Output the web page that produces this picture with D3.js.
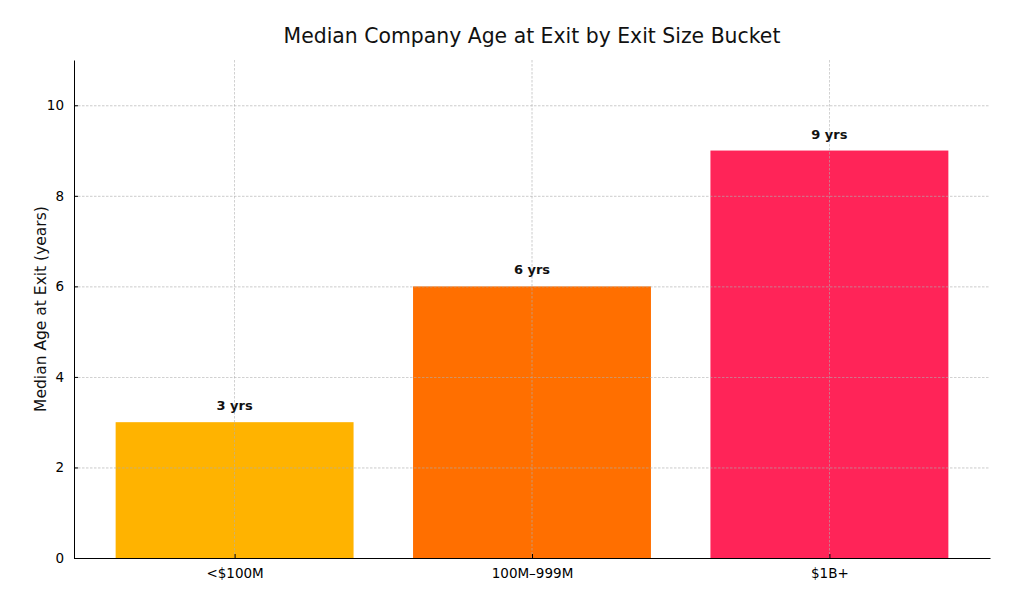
<!DOCTYPE html>
<html>
<head>
<meta charset="utf-8">
<script src="https://cdn.jsdelivr.net/npm/d3@7"></script>
<style>
  body { margin: 0; background: #fff; }
  text { font-family: "DejaVu Sans", sans-serif; }
</style>
</head>
<body>
<div id="vis_container"></div>
<script>
// chart data
var categories = ["<$100M", "100M\u2013999M", "$1B+"];
var values = [3, 6, 9];
var valueLabels = ["3 yrs", "6 yrs", "9 yrs"];
var barColors = ["#FFB300", "#FF6F00", "#FF2458"];
var yTicks = [0, 2, 4, 6, 8, 10];

var chart = {};
chart.width = 1024;
chart.height = 610;
chart.margin = {"top": 60, "left": 74, "right": 34, "bottom": 52};
chart.innerW = chart.width - chart.margin.left - chart.margin.right;
chart.innerH = chart.height - chart.margin.top - chart.margin.bottom;

chart.svg = d3.select("#vis_container").append("svg")
	.attr("width", chart.width)
	.attr("height", chart.height)
	.style("background-color", "#FFFFFF");

chart.g = chart.svg.append("g")
	.attr("transform", "translate(" + chart.margin.left + "," + chart.margin.top + ")");

// matplotlib-like: bar width 0.8, 0.05 margins
chart.xScale = d3.scaleLinear()
	.domain([-0.54, categories.length - 1 + 0.54])
	.range([0, chart.innerW]);
chart.barW = chart.xScale(0.8) - chart.xScale(0);

chart.yScale = d3.scaleLinear()
	.domain([0, 11])
	.range([chart.innerH, 0]);

// bars
chart.g.selectAll("rect.bar")
	.data(values)
	.enter().append("rect")
	.attr("class", "bar")
	.attr("x", function(d, i) { return chart.xScale(i) - chart.barW / 2; })
	.attr("y", function(d) { return chart.yScale(d); })
	.attr("width", chart.barW)
	.attr("height", function(d) { return chart.innerH - chart.yScale(d); })
	.attr("fill", function(d, i) { return barColors[i]; });

// grid on top of bars
chart.g.selectAll("line.hgrid")
	.data(yTicks.slice(1))
	.enter().append("line")
	.attr("x1", 0)
	.attr("x2", chart.innerW)
	.attr("y1", function(d) { return chart.yScale(d) + 0.5; })
	.attr("y2", function(d) { return chart.yScale(d) + 0.5; })
	.attr("stroke", "#b0b0b0")
	.attr("stroke-width", 0.8)
	.attr("stroke-dasharray", "2.5,1.5")
	.attr("opacity", 0.8);

chart.g.selectAll("line.vgrid")
	.data(categories)
	.enter().append("line")
	.attr("x1", function(d, i) { return chart.xScale(i); })
	.attr("x2", function(d, i) { return chart.xScale(i); })
	.attr("y1", 0)
	.attr("y2", chart.innerH)
	.attr("stroke", "#b0b0b0")
	.attr("stroke-width", 0.8)
	.attr("stroke-dasharray", "2.5,1.5")
	.attr("opacity", 0.8);

// axes
chart.yAxis = d3.axisLeft(chart.yScale)
	.tickValues(yTicks)
	.tickSizeInner(-4)
	.tickSizeOuter(0)
	.tickPadding(10);
chart.g.append("g")
	.call(chart.yAxis)
	.call(function(g) {
		g.select(".domain").attr("stroke", "#000").attr("stroke-width", 1);
		g.selectAll("text").attr("font-size", 13.5).attr("fill", "#000")
			.attr("font-family", "DejaVu Sans, sans-serif");
	});

chart.xAxis = d3.axisBottom(chart.xScale)
	.tickValues(d3.range(categories.length))
	.tickFormat(function(d) { return categories[d]; })
	.tickSizeInner(-4)
	.tickSizeOuter(0)
	.tickPadding(10);
chart.g.append("g")
	.attr("transform", "translate(0," + chart.innerH + ")")
	.call(chart.xAxis)
	.call(function(g) {
		g.select(".domain").attr("stroke", "#000").attr("stroke-width", 1);
		g.selectAll("text").attr("font-size", 13.5).attr("fill", "#000")
			.attr("font-family", "DejaVu Sans, sans-serif");
	});

// value labels
chart.g.selectAll("text.vlabel")
	.data(values)
	.enter().append("text")
	.attr("class", "vlabel")
	.attr("x", function(d, i) { return chart.xScale(i); })
	.attr("y", function(d) { return chart.yScale(d) - 12; })
	.attr("text-anchor", "middle")
	.attr("font-size", 13)
	.attr("font-weight", "bold")
	.attr("fill", "#111")
	.text(function(d, i) { return valueLabels[i]; });

// title and y label
chart.svg.append("text")
	.attr("x", chart.margin.left + chart.innerW / 2)
	.attr("y", 43)
	.attr("text-anchor", "middle")
	.attr("font-size", 20.4)
	.attr("fill", "#111")
	.text("Median Company Age at Exit by Exit Size Bucket");

chart.svg.append("text")
	.attr("transform", "translate(46," + (chart.margin.top + chart.innerH / 2) + ") rotate(-90)")
	.attr("text-anchor", "middle")
	.attr("font-size", 15.5)
	.attr("fill", "#111")
	.text("Median Age at Exit (years)");
</script>
</body>
</html>
